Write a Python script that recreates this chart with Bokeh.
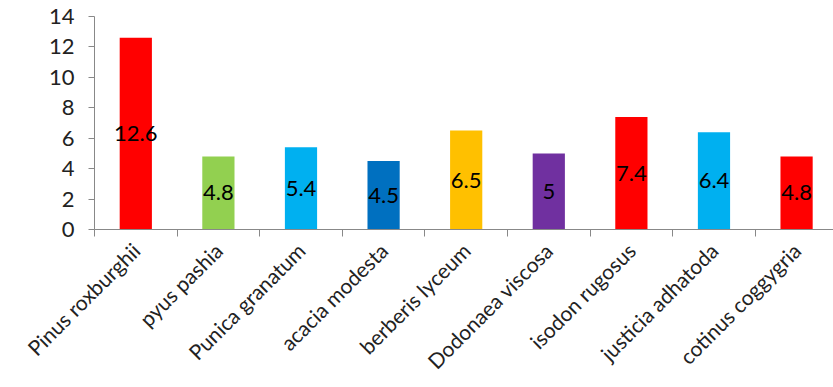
from bokeh.plotting import figure
from bokeh.models import Range1d, FixedTicker, ColumnDataSource
from bokeh.embed import file_html
from bokeh.resources import INLINE
from bokeh.core.properties import value
import math

categories = ["Pinus roxburghii", "pyus pashia", "Punica granatum", "acacia modesta",
              "berberis lyceum", "Dodonaea viscosa", "isodon rugosus", "justicia adhatoda",
              "cotinus coggygria"]
values = [12.6, 4.8, 5.4, 4.5, 6.5, 5, 7.4, 6.4, 4.8]
labels = ["12.6", "4.8", "5.4", "4.5", "6.5", "5", "7.4", "6.4", "4.8"]
colors = ["#FF0000", "#92D050", "#00B0F0", "#0070C0", "#FFC000", "#7030A0",
          "#FF0000", "#00B0F0", "#FF0000"]
y_ticks = [0, 2, 4, 6, 8, 10, 12, 14]

xs = [i + 0.5 for i in range(len(categories))]
src = ColumnDataSource(dict(x=xs, top=values, mid=[v / 2 for v in values],
                            lab=labels, color=colors))

FONT = "Lato"
p = figure(width=833, height=387, output_backend="svg", toolbar_location=None,
           x_range=Range1d(0, 8.947), y_range=Range1d(0, 14),
           min_border_left=94, min_border_right=0, min_border_top=16, min_border_bottom=158)
p.outline_line_color = None
p.xgrid.visible = False
p.ygrid.visible = False

p.vbar(x="x", top="top", bottom=0, width=0.39, color="color", line_color=None, source=src)
p.text(x="x", y="mid", text="lab", source=src, text_align="center", text_baseline="middle",
       text_font=value(FONT), text_font_size="22px", text_color="#000000")

# y axis
p.yaxis.ticker = FixedTicker(ticks=y_ticks)
p.yaxis.axis_line_color = "#888888"
p.yaxis.major_tick_line_color = "#888888"
p.yaxis.major_tick_out = 6
p.yaxis.major_tick_in = 0
p.yaxis.minor_tick_line_color = None
p.yaxis.major_label_text_font = FONT
p.yaxis.major_label_text_font_size = "22px"
p.yaxis.major_label_text_color = "#222222"
p.yaxis.major_label_standoff = 14

# x axis: ticks at category boundaries, names at category centres
p.xaxis.ticker = FixedTicker(ticks=xs, minor_ticks=list(range(len(categories) + 1)))
p.xaxis.major_label_overrides = {x: c for x, c in zip(xs, categories)}
p.xaxis.axis_line_color = "#888888"
p.xaxis.major_tick_line_color = None
p.xaxis.major_tick_out = 0
p.xaxis.minor_tick_line_color = "#888888"
p.xaxis.minor_tick_out = 7
p.xaxis.minor_tick_in = 0
p.xaxis.major_label_orientation = math.pi / 4
p.xaxis.major_label_text_font = FONT
p.xaxis.major_label_text_font_size = "21px"
p.xaxis.major_label_text_color = "#222222"
p.xaxis.major_label_standoff = 10

open("out.html", "w").write(file_html(p, INLINE))
